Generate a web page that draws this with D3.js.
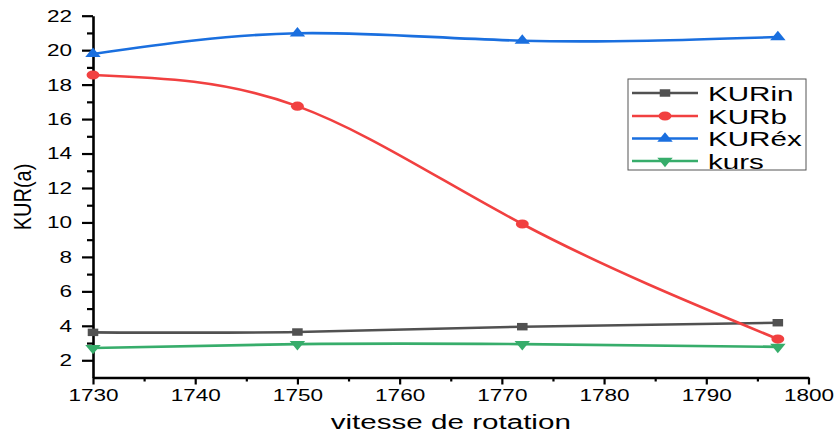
<!DOCTYPE html>
<html>
<head>
<meta charset="utf-8">
<script src="https://cdn.jsdelivr.net/npm/d3@7"></script>
<style>
  html, body { margin: 0; padding: 0; background: #fff; }
  svg { display: block; font-family: "Liberation Sans", Arial, sans-serif; }
</style>
</head>
<body>
<svg id="chart" width="838" height="435"></svg>
<script>
// Rotation speeds (x) and measured kurtosis for each series
const speeds = [1730, 1750, 1772, 1797];
const kurIn  = [3.62, 3.64, 3.95, 4.18];
const kurB   = [18.56, 16.75, 9.91, 3.23];
const kurEx  = [19.78, 20.98, 20.55, 20.76];
const kurs   = [2.71, 2.94, 2.94, 2.78];

const seriesNames = ["KURin", "KURb", "KURéx", "kurs"];
const xTicks = [1730, 1740, 1750, 1760, 1770, 1780, 1790, 1800];
const xMinor = [1735, 1745, 1755, 1765, 1775, 1785, 1795];
const yTicks = [2, 4, 6, 8, 10, 12, 14, 16, 18, 20, 22];
const yMinor = [3, 5, 7, 9, 11, 13, 15, 17, 19, 21];

const colors  = ["#515151", "#F14040", "#1A6FDF", "#37AD6B"];
const symbols = ["square", "circle", "triUp", "triDown"];
const values  = [kurIn, kurB, kurEx, kurs];

// Horizontal stretch applied to glyphs and markers
const SX = 1.41;

const svg = d3.select("#chart");
const W = 838, H = 435;
const plotL = 93, plotR = 808.5, plotT = 15.7, plotB = 377.5;

const x = d3.scaleLinear().domain([1730, 1800]).range([plotL, plotR]);
const y = d3.scaleLinear().domain([1, 22]).range([plotB, plotT]);

svg.append("rect").attr("width", W).attr("height", H).attr("fill", "#fff");

function symbolPath(kind) {
  if (kind === "square") return d3.symbol(d3.symbolSquare, 56)();
  if (kind === "circle") return d3.symbol(d3.symbolCircle, 66)();
  return d3.symbol(d3.symbolTriangle, 52)();
}
function symbolTransform(kind, px, py) {
  const rot = kind === "triDown" ? " rotate(180)" : "";
  return `translate(${px},${py}) scale(${SX},1)${rot}`;
}

// Axes
const xAxis = svg.append("g").attr("transform", `translate(0,${plotB})`)
  .call(d3.axisBottom(x).tickValues(xTicks).tickSize(7).tickSizeOuter(0).tickFormat(d3.format("d")));
svg.append("g").attr("transform", `translate(0,${plotB})`)
  .call(d3.axisBottom(x).tickValues(xMinor).tickSize(4).tickSizeOuter(0).tickFormat(""))
  .call(g => g.select(".domain").remove());

const yAxis = svg.append("g").attr("transform", `translate(${plotL},0)`)
  .call(d3.axisLeft(y).tickValues(yTicks).tickSize(11).tickSizeOuter(0).tickFormat(d3.format("d")));
svg.append("g").attr("transform", `translate(${plotL},0)`)
  .call(d3.axisLeft(y).tickValues(yMinor).tickSize(6).tickSizeOuter(0).tickFormat(""))
  .call(g => g.select(".domain").remove());

svg.selectAll(".domain").attr("stroke", "#000").attr("stroke-width", 2.6);
svg.selectAll(".tick line").attr("stroke", "#000").attr("stroke-width", 2.2);

xAxis.selectAll(".tick text")
  .attr("y", 12.5).attr("dy", "0.71em")
  .attr("font-size", 16).attr("fill", "#000")
  .attr("transform", `scale(${SX},1)`);

yAxis.selectAll(".tick text")
  .attr("x", -21 / SX).attr("dy", "0.34em")
  .attr("font-size", 16).attr("fill", "#000")
  .attr("transform", `scale(${SX},1)`);

svg.selectAll(".tick text").attr("font-family", "Liberation Sans, Arial, sans-serif");

// Axis titles
svg.append("text")
  .attr("transform", `translate(${(plotL + plotR) / 2},429) scale(${SX},1)`)
  .attr("text-anchor", "middle").attr("font-size", 21).attr("fill", "#000")
  .text("vitesse de rotation");

svg.append("text")
  .attr("transform", `translate(23,197) scale(1.2,1) rotate(-90)`)
  .attr("text-anchor", "middle").attr("dy", "0.35em").attr("font-size", 20).attr("fill", "#000")
  .text("KUR(a)");

// Series lines and markers
const line = d3.line().x(d => x(d[0])).y(d => y(d[1])).curve(d3.curveNatural);

values.forEach((vals, i) => {
  const pts = speeds.map((s, j) => [s, vals[j]]);
  svg.append("path").datum(pts)
    .attr("d", line).attr("fill", "none")
    .attr("stroke", colors[i]).attr("stroke-width", 2.6);
  svg.append("g").selectAll("path").data(pts).join("path")
    .attr("d", symbolPath(symbols[i]))
    .attr("transform", d => symbolTransform(symbols[i], x(d[0]), y(d[1])))
    .attr("fill", colors[i]);
});

// Legend
const lg = svg.append("g");
lg.append("rect").attr("x", 628).attr("y", 79).attr("width", 178).attr("height", 91)
  .attr("fill", "#fff").attr("stroke", "#555").attr("stroke-width", 1);
const rowY = [93, 116, 138.5, 161];
seriesNames.forEach((name, i) => {
  const ry = rowY[i];
  lg.append("line").attr("x1", 632).attr("x2", 698).attr("y1", ry).attr("y2", ry)
    .attr("stroke", colors[i]).attr("stroke-width", 2.6);
  lg.append("path").attr("d", symbolPath(symbols[i]))
    .attr("transform", symbolTransform(symbols[i], 665, ry)).attr("fill", colors[i]);
  lg.append("text")
    .attr("transform", `translate(708,${ry}) scale(${SX},1)`)
    .attr("dy", "0.36em").attr("font-size", 21).attr("fill", "#000")
    .text(name);
});
</script>
</body>
</html>
